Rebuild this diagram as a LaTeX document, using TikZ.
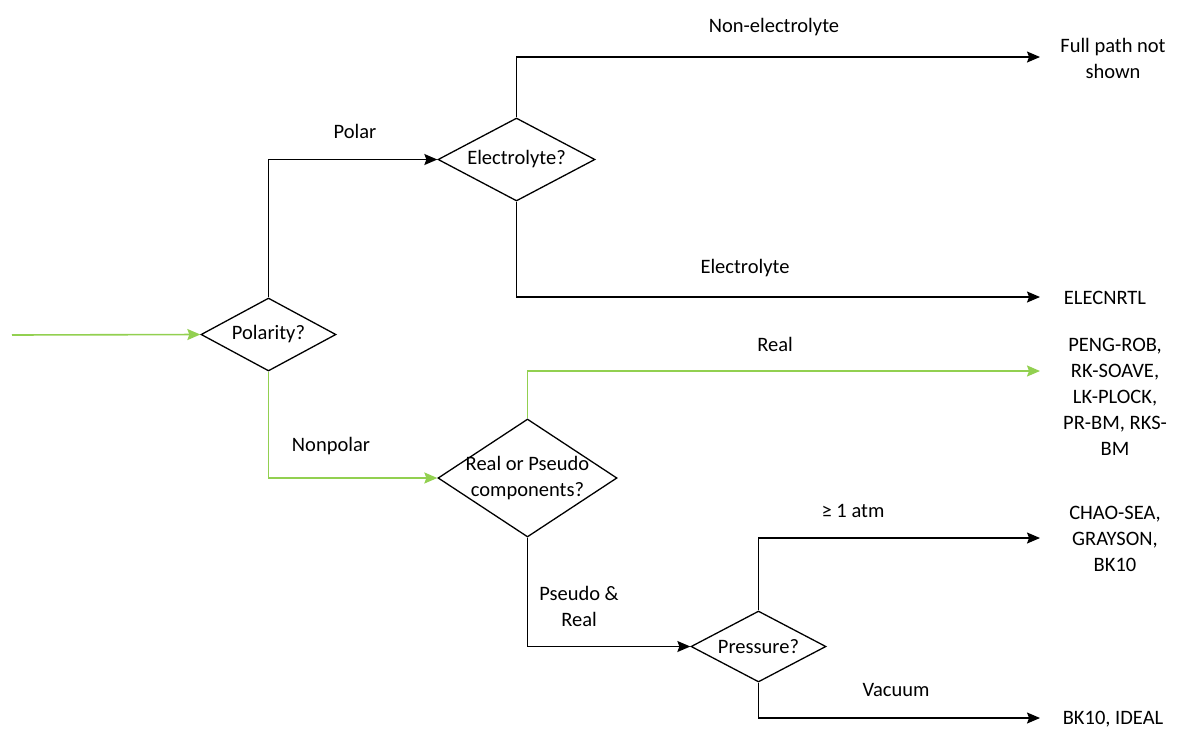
\documentclass[tikz,border=0pt]{standalone}
\usepackage{fontspec}
\setmainfont{Carlito}
\usetikzlibrary{shapes.geometric,arrows.meta}
\definecolor{okgreen}{HTML}{92D050}
\begin{document}
\begin{tikzpicture}[x=1pt,y=-1pt,
  font=\fontsize{20.5}{26}\selectfont,
  decision/.style={draw=black, line width=1.3pt, diamond, inner sep=0pt},
  flow/.style={line width=1.3pt, draw=black, -{Stealth[length=13pt,width=11pt,inset=2pt]}},
  flowg/.style={flow, draw=okgreen, line width=1.6pt},
  lbl/.style={inner sep=0pt, align=center},
  result/.style={inner sep=0pt, align=center}]
\useasboundingbox (0,0) rectangle (1182,734);

% decision diamonds
\node[decision, minimum width=135pt, minimum height=73pt,
  label={[lbl]center:Polarity?}] (pol) at (268.5,334.5) {};
\node[decision, minimum width=157pt, minimum height=83pt,
  label={[lbl]center:Electrolyte?}] (ele) at (516.5,159.5) {};
\node[decision, minimum width=179pt, minimum height=118pt,
  label={[lbl]center:Real or Pseudo\\components?}] (rop) at (527.5,478) {};
\node[decision, minimum width=135pt, minimum height=71pt,
  label={[lbl]center:Pressure?}] (prs) at (758.5,646.5) {};

% outcomes
\coordinate (start) at (12,335);
\coordinate (eNon) at (1040,57);
\coordinate (eEle) at (1040,297);
\coordinate (eReal) at (1040,371);
\coordinate (eHigh) at (1040,538);
\coordinate (eVac) at (1040,718);

\node[result] (rNon) at (1113,58) {Full path not\\shown};
\node[result] (rEle) at (1105,298) {ELECNRTL};
\node[result] (rReal) at (1115,397) {PENG-ROB,\\RK-SOAVE,\\LK-PLOCK,\\PR-BM, RKS-\\BM};
\node[result] (rHigh) at (1115,539) {CHAO-SEA,\\GRAYSON,\\BK10};
\node[result] (rVac) at (1113,719) {BK10, IDEAL};

% connectors
\draw[flowg] (start) -- (pol.west);
\draw[flow] (pol.north) |- (ele.west);
\draw[flowg] (pol.south) |- (rop.west);
\draw[flow] (ele.north) |- (eNon);
\draw[flow] (ele.south) |- (eEle);
\draw[flowg] (rop.north) |- (eReal);
\draw[flow] (rop.south) |- (prs.west);
\draw[flow] (prs.north) |- (eHigh);
\draw[flow] (prs.south) |- (eVac);

% branch labels
\node[lbl] (lPolar) at (355,131) {Polar};
\node[lbl] (lNonpolar) at (331,446) {Nonpolar};
\node[lbl] (lNonEle) at (774,27) {Non-electrolyte};
\node[lbl] (lEle) at (745,268) {Electrolyte};
\node[lbl] (lReal) at (775,344) {Real};
\node[lbl] (lPseudo) at (579,606) {Pseudo \&\\Real};
\node[lbl] (lHigh) at (853,511) {≥ 1 atm};
\node[lbl] (lVac) at (896,690) {Vacuum};
\end{tikzpicture}
\end{document}
